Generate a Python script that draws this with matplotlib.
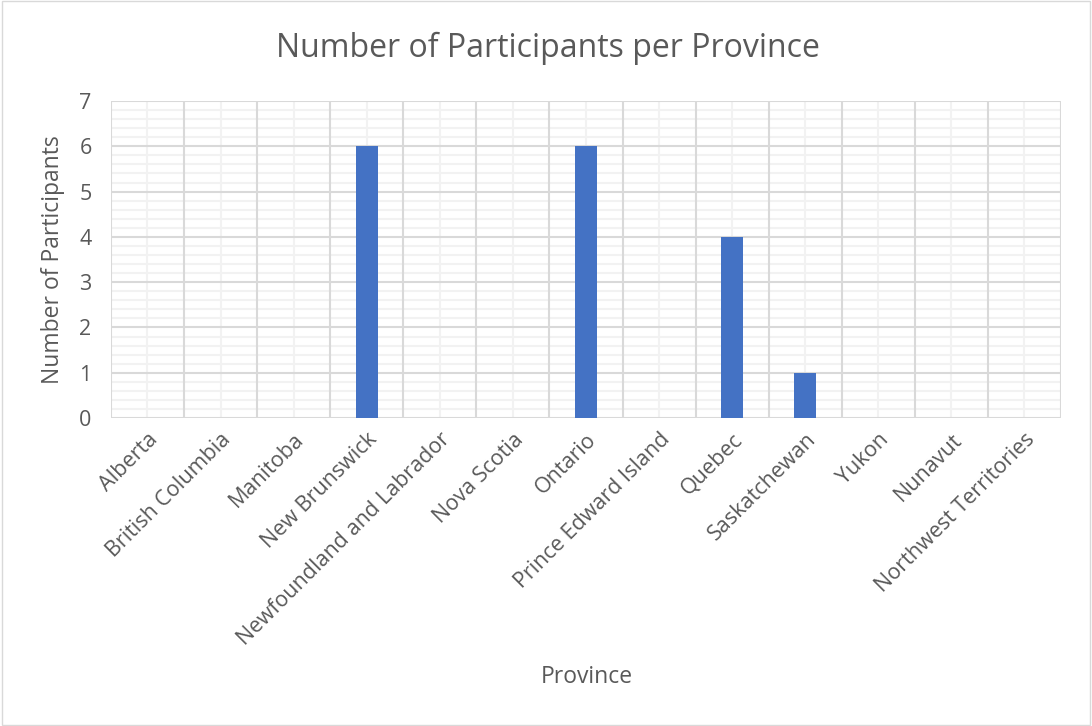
import matplotlib
matplotlib.use("Agg")
import matplotlib.pyplot as plt
from matplotlib.ticker import MultipleLocator, FixedLocator
import numpy as np

provinces = ["Alberta", "British Columbia", "Manitoba", "New Brunswick",
             "Newfoundland and Labrador", "Nova Scotia", "Ontario",
             "Prince Edward Island", "Quebec", "Saskatchewan", "Yukon",
             "Nunavut", "Northwest Territories"]
participants = [0, 0, 0, 6, 0, 0, 6, 0, 4, 1, 0, 0, 0]

plt.rcParams['font.family'] = ['Open Sans', 'DejaVu Sans']
text_color = "#595959"

fig = plt.figure(figsize=(10.92, 7.26), dpi=100)
fig.patch.set_facecolor("white")
ax = fig.add_axes([0.1016, 0.4242, 0.870, 0.4367])

x = np.arange(len(provinces))
ax.bar(x, participants, width=0.3, color="#4472C4", zorder=3)

ax.set_xlim(-0.5, len(provinces) - 0.5)
ax.set_ylim(0, 7)

ax.yaxis.set_major_locator(MultipleLocator(1))
ax.yaxis.set_minor_locator(MultipleLocator(0.2))
ax.xaxis.set_major_locator(FixedLocator(x))

# Gridlines: category boundaries and integer levels in grey, finer lines lighter
ax.grid(False)
for b in np.arange(len(provinces) + 1) - 0.5:
    ax.axvline(b, color="#D9D9D9", lw=1.5, zorder=1)
for c in x:
    ax.axvline(c, color="#F2F2F2", lw=1.5, zorder=0.5)
ax.yaxis.grid(True, which="major", color="#D9D9D9", lw=1.5, zorder=1)
ax.yaxis.grid(True, which="minor", color="#F2F2F2", lw=1.5, zorder=0.5)
ax.set_axisbelow(True)

for s in ax.spines.values():
    s.set_visible(False)
ax.axhline(0, color="#D9D9D9", lw=2, zorder=2)

ax.tick_params(axis="both", which="both", length=0, colors=text_color,
               labelsize=15.5)
ax.set_xticks(x)
ax.set_xticklabels(provinces, rotation=45, ha="right", va="top",
                   rotation_mode="anchor")
ax.tick_params(axis="x", pad=8)
ax.tick_params(axis="y", pad=14)

fig.text(0.502, 0.934, "Number of Participants per Province",
         color=text_color, fontsize=23, ha="center", va="center")
ax.set_ylabel("Number of Participants", color=text_color, fontsize=16.5,
              labelpad=10)
fig.text(0.537, 0.068, "Province", color=text_color, fontsize=16.5,
         ha="center", va="center")

# Chart border
fig.add_artist(plt.Rectangle((0.002, 0.002), 0.996, 0.996,
                             transform=fig.transFigure, fill=False,
                             edgecolor="#D9D9D9", lw=1))

fig.savefig("out.png", dpi=100, facecolor="white")
